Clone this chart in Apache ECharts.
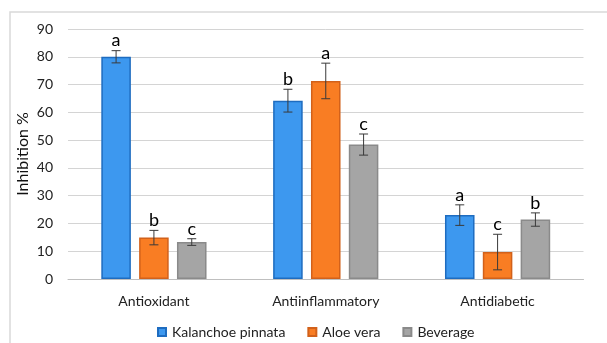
<!DOCTYPE html>
<html><head><meta charset="utf-8">
<script src="https://cdn.jsdelivr.net/npm/echarts@6/dist/echarts.min.js"></script>
<style>html,body{margin:0;padding:0;background:#fff}#c{width:607px;height:343px}</style>
</head><body><div id="c"></div>
<script>
const categories = ['Antioxidant', 'Antiinflammatory', 'Antidiabetic'];
const seriesNames = ['Kalanchoe pinnata', 'Aloe vera', 'Beverage'];
const kalanchoe = [80, 64.2, 23];
const kalanchoeErr = [2.2, 4.1, 3.7];
const kalanchoeLetters = ['a', 'b', 'a'];
const aloe = [14.9, 71.3, 9.7];
const aloeErr = [2.6, 6.4, 6.4];
const aloeLetters = ['b', 'a', 'c'];
const beverage = [13.3, 48.4, 21.4];
const beverageErr = [1.2, 3.8, 2.4];
const beverageLetters = ['c', 'c', 'b'];
const yTicks = [0, 10, 20, 30, 40, 50, 60, 70, 80, 90];

const values = [kalanchoe, aloe, beverage];
const errs = [kalanchoeErr, aloeErr, beverageErr];
const letters = [kalanchoeLetters, aloeLetters, beverageLetters];
const fills = ['#3d98ef', '#f97d23', '#a5a5a5'];
const borders = ['#1e6cc0', '#d2611a', '#8a8a8a'];
const FONT = 'Lato';
const BW = 0.172, GAP = 0.28;

const chart = echarts.init(document.getElementById('c'), null, {renderer: 'canvas'});
const series = [];
values.forEach((v, i) => {
  series.push({
    name: seriesNames[i], type: 'bar', data: v,
    barWidth: (BW * 100) + '%', barGap: (GAP * 100) + '%',
    itemStyle: {color: fills[i], borderColor: borders[i], borderWidth: 1.5},
    emphasis: {disabled: true}, animation: false
  });
});
values.forEach((v, i) => {
  series.push({
    type: 'custom', name: seriesNames[i] + ' err', silent: true, animation: false,
    data: v.map((val, k) => [k, val, errs[i][k], letters[i][k]]),
    renderItem: function (params, api) {
      const k = api.value(0), val = api.value(1), e = api.value(2);
      const catW = api.size([1, 0])[0];
      const bw = catW * BW;
      const off = (i - 1) * bw * (1 + GAP);
      const top = api.coord([k, val + e]);
      const bot = api.coord([k, val - e]);
      const x = top[0] + off;
      const cap = 4.5;
      const st = {stroke: '#3a3a3a', lineWidth: 1};
      return {type: 'group', children: [
        {type: 'line', shape: {x1: x, y1: top[1], x2: x, y2: bot[1]}, style: st},
        {type: 'line', shape: {x1: x - cap, y1: top[1], x2: x + cap, y2: top[1]}, style: st},
        {type: 'line', shape: {x1: x - cap, y1: bot[1], x2: x + cap, y2: bot[1]}, style: st},
        {type: 'text', x: x, y: top[1] - 1, style: {text: api.value(3), x: 0, y: 0, textAlign: 'center', textVerticalAlign: 'bottom', fill: '#000', font: '18px ' + FONT}}
      ]};
    },
    z: 5
  });
});

chart.setOption({
  animation: false,
  textStyle: {fontFamily: FONT},
  graphic: [{type: 'rect', shape: {x: 10, y: 12, width: 640, height: 360}, style: {fill: 'none', stroke: '#d9d9d9', lineWidth: 1.5}, silent: true}],
  grid: {left: 68, right: 23.5, top: 29, bottom: 64},
  legend: {
    data: seriesNames, left: 152, top: 320, icon: 'rect', itemWidth: 8, itemHeight: 8, itemGap: 22,
    textStyle: {fontFamily: FONT, fontSize: 14, color: '#222', padding: [0, 0, 0, 1]}
  },
  xAxis: {
    type: 'category', data: categories,
    axisLine: {lineStyle: {color: '#bfbfbf', width: 1}}, axisTick: {show: false},
    axisLabel: {fontFamily: FONT, fontSize: 14, color: '#222', margin: 15}
  },
  yAxis: {
    type: 'value', min: 0, max: 90, interval: 10,
    name: 'Inhibition %', nameLocation: 'middle', nameGap: 37, nameRotate: 90,
    nameMoveOverlap: false,
    nameTextStyle: {fontFamily: FONT, fontSize: 16, color: '#111'},
    axisLine: {show: false}, axisTick: {show: false},
    axisLabel: {fontFamily: FONT, fontSize: 14, color: '#222', margin: 15,
      formatter: v => yTicks.includes(v) ? String(v) : ''},
    splitLine: {lineStyle: {color: '#d4d4d4', width: 1}}
  },
  series: series
});
</script></body></html>
